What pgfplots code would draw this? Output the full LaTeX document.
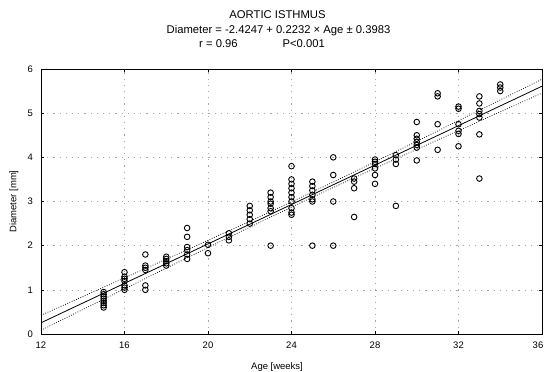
\documentclass[border=0pt]{standalone}
\usepackage{fontspec}
\setmainfont{Liberation Sans}
\usepackage{pgfplots}
\pgfplotsset{compat=1.18}
\usepackage{pgfplotstable}

\pgfplotstableread{
age d
15 0.95
15 0.90
15 0.85
15 0.80
15 0.75
15 0.70
15 0.65
15 0.60
16 1.40
16 1.30
16 1.25
16 1.20
16 1.10
16 1.05
16 1.00
17 1.80
17 1.55
17 1.50
17 1.45
17 1.10
17 1.00
18 1.75
18 1.70
18 1.65
18 1.60
18 1.55
19 2.40
19 2.20
19 1.97
19 1.90
19 1.80
19 1.70
20 2.02
20 1.83
21 2.28
21 2.20
21 2.12
22 2.90
22 2.80
22 2.70
22 2.60
22 2.50
23 3.20
23 3.10
23 3.00
23 2.95
23 2.85
23 2.78
23 2.00
24 3.80
24 3.50
24 3.40
24 3.30
24 3.20
24 3.10
24 3.00
24 2.85
24 2.75
24 2.70
25 3.45
25 3.35
25 3.25
25 3.15
25 3.05
25 3.00
25 2.00
26 4.00
26 3.60
26 3.00
26 2.00
27 3.52
27 3.45
27 3.30
27 2.65
28 3.95
28 3.90
28 3.85
28 3.75
28 3.60
28 3.40
29 4.05
29 3.95
29 3.85
29 2.90
30 4.80
30 4.50
30 4.42
30 4.35
30 4.28
30 4.22
30 3.93
31 5.45
31 5.38
31 4.75
31 4.17
32 5.15
32 5.10
32 4.75
32 4.60
32 4.53
32 4.25
33 5.38
33 5.22
33 5.05
33 4.98
33 4.90
33 4.52
33 3.52
34 5.65
34 5.58
34 5.50
}\points

\pgfplotstableread{
x fit up lo
12 0.2537 0.424 0.084
14 0.7001 0.847 0.554
16 1.1465 1.270 1.022
18 1.5929 1.695 1.491
20 2.0393 2.122 1.956
22 2.4857 2.554 2.418
24 2.9321 2.992 2.872
26 3.3785 3.442 3.316
28 3.8249 3.900 3.750
30 4.2713 4.363 4.179
32 4.7177 4.831 4.605
34 5.1641 5.299 5.029
36 5.6105 5.768 5.453
}\fitline

\begin{document}
\begin{tikzpicture}
\begin{axis}[
  at={(0,0)}, anchor=south west,
  scale only axis,
  width=501bp, height=265bp,
  xmin=12, xmax=36, ymin=0, ymax=6,
  xtick={12,16,20,24,28,32,36},
  xticklabels={12,16,20,24,28,32,{\hspace*{-8bp}36}},
  ytick={0,1,2,3,4,5,6},
  tick align=inside,
  major tick length=3bp,
  tick style={black, line width=0.6bp},
  axis line style={black, line width=0.9bp},
  grid=major,
  major grid style={gray!70, line width=0.6bp, dash pattern=on 1.2bp off 5bp},
  tick label style={font=\fontsize{9.5}{11}\selectfont},
  /pgf/number format/assume math mode=true,
  xticklabel style={yshift=-4.5bp},
  yticklabel style={xshift=-4.5bp},
  clip=true,
]
\addplot[only marks, mark=o, mark size=2.8bp, black, mark options={line width=0.9bp}] table[x=age, y=d] {\points};
\addplot[black, line width=0.8bp] table[x=x, y=fit] {\fitline};
\addplot[black, line width=0.7bp, dash pattern=on 0.8bp off 1.6bp, smooth] table[x=x, y=up] {\fitline};
\addplot[black, line width=0.7bp, dash pattern=on 0.8bp off 1.6bp, smooth] table[x=x, y=lo] {\fitline};
\end{axis}
\node[anchor=base, font=\fontsize{11.3}{12}\selectfont] at (236.5bp,315bp) {AORTIC ISTHMUS};
\node[anchor=base, font=\fontsize{11.3}{12}\selectfont] at (237.5bp,300.5bp) {Diameter = -2.4247 + 0.2232 × Age ± 0.3983};
\node[anchor=base west, font=\fontsize{11.3}{12}\selectfont, inner sep=0pt] at (158bp,286bp) {r = 0.96};
\node[anchor=base east, font=\fontsize{11.3}{12}\selectfont, inner sep=0pt] at (284bp,286bp) {P<0.001};
\node[rotate=90, font=\fontsize{9.5}{11}\selectfont] at (-27bp,132.5bp) {Diameter [mm]};
\node[anchor=north, font=\fontsize{9.5}{11}\selectfont, inner sep=0pt] at (236bp,-28bp) {Age [weeks]};
\pgfresetboundingbox
\path[use as bounding box] (-41bp,-38bp) rectangle (504bp,334bp);
\end{tikzpicture}
\end{document}
